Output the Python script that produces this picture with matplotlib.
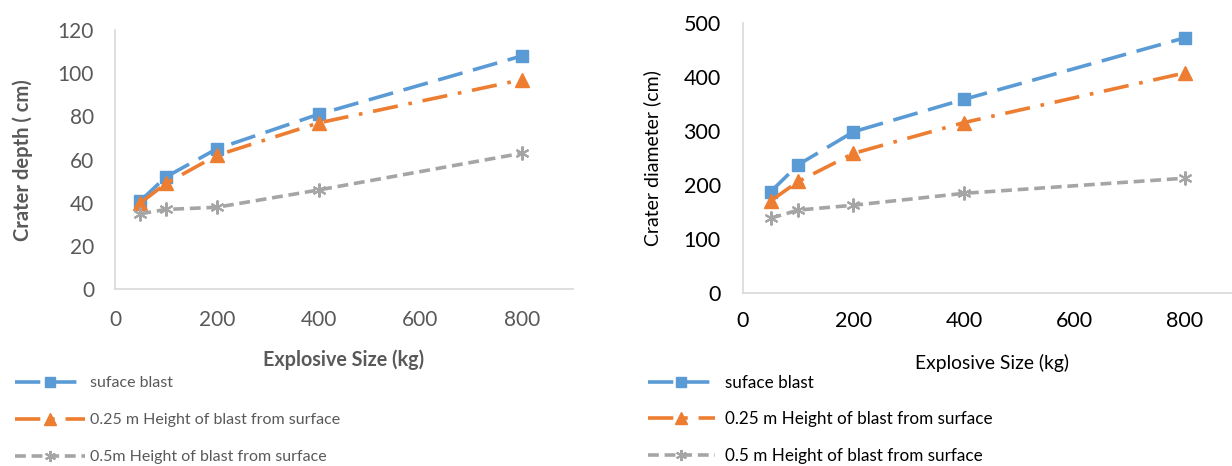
import matplotlib
matplotlib.use("Agg")
import matplotlib.pyplot as plt

# ---- data ----
explosive_size = [50, 100, 200, 400, 800]
depth_surface = [41, 52, 65, 81, 108]
depth_025 = [40, 49, 62, 77, 97]
depth_05 = [35, 37, 38, 46, 63]
diam_surface = [187, 237, 298, 358, 472]
diam_025 = [170, 206, 258, 315, 407]
diam_05 = [138, 153, 162, 184, 212]
left_labels = ["suface blast", "0.25 m Height of blast from surface", "0.5m Height of blast from surface"]
right_labels = ["suface blast", "0.25 m Height of blast from surface", "0.5 m Height of blast from surface"]

BLUE = "#5B9BD5"
ORANGE = "#ED7D31"
GRAY = "#A5A5A5"
FONT = "Lato"
plt.rcParams['font.family'] = [FONT, 'DejaVu Sans']

fig = plt.figure(figsize=(12.32, 4.66), dpi=100)

styles = [
    dict(color=BLUE, marker='s', markersize=9, dashes=(7, 3)),
    dict(color=ORANGE, marker='^', markersize=10, dashes=(7, 3, 1, 3)),
    dict(color=GRAY, marker=(6, 2, 0), markersize=10, markeredgewidth=1.5, dashes=(3, 1.6)),
]

def setup(ax, ymax, ystep, tick_color, tick_size, xpad, ypad):
    ax.set_xlim(0, 900)
    ax.set_ylim(0, ymax)
    ax.set_xticks(range(0, 801, 200))
    ax.set_yticks(range(0, ymax + 1, ystep))
    for s in ['top', 'right']:
        ax.spines[s].set_visible(False)
    for s in ['left', 'bottom']:
        ax.spines[s].set_color('#D9D9D9')
        ax.spines[s].set_linewidth(1.2)
    ax.tick_params(length=0, labelsize=tick_size, labelcolor=tick_color)
    ax.tick_params(axis='x', pad=xpad)
    ax.tick_params(axis='y', pad=ypad)

# left
ax1 = fig.add_axes([0.0933, 0.3788, 0.3718, 0.557])
series1 = [depth_surface, depth_025, depth_05]
h1 = []
for vals, st, lab in zip(series1, styles, left_labels):
    l, = ax1.plot(explosive_size, vals, linewidth=2.6, label=lab,
                  markeredgecolor=st['color'], **st)
    h1.append(l)
setup(ax1, 120, 20, '#595959', 15, 15, 15)
ax1.set_ylabel("Crater depth ( cm)", fontsize=14.5, fontweight='bold', color='#595959', labelpad=18)
ax1.set_xlabel("Explosive Size (kg)", fontsize=14.2, fontweight='bold', color='#595959', labelpad=14)

fig.legend(h1, left_labels, loc='upper left', bbox_to_anchor=(0.012, 0.193),
           frameon=False, fontsize=11.5, labelcolor='#595959', handlelength=4.4,
           labelspacing=1.43, handletextpad=0.3, borderaxespad=0, borderpad=0,
           markerscale=0.8)

# right
ax2 = fig.add_axes([0.6031, 0.3719, 0.4034, 0.5794])
series2 = [diam_surface, diam_025, diam_05]
h2 = []
for vals, st, lab in zip(series2, styles, right_labels):
    l, = ax2.plot(explosive_size, vals, linewidth=2.6, label=lab,
                  markeredgecolor=st['color'], **st)
    h2.append(l)
setup(ax2, 500, 100, '#000000', 15.5, 13.5, 16)
ax2.set_ylabel("Crater diameter (cm)", fontsize=14, color='#000000', labelpad=16)
ax2.set_xlabel("Explosive Size (kg)", fontsize=13.9, color='#000000', labelpad=16)

fig.legend(h2, right_labels, loc='upper left', bbox_to_anchor=(0.526, 0.196),
           frameon=False, fontsize=12.3, labelcolor='#000000', handlelength=3.9,
           labelspacing=1.2, handletextpad=0.6, borderaxespad=0, borderpad=0,
           markerscale=0.8)

fig.savefig("out.png", dpi=100)
